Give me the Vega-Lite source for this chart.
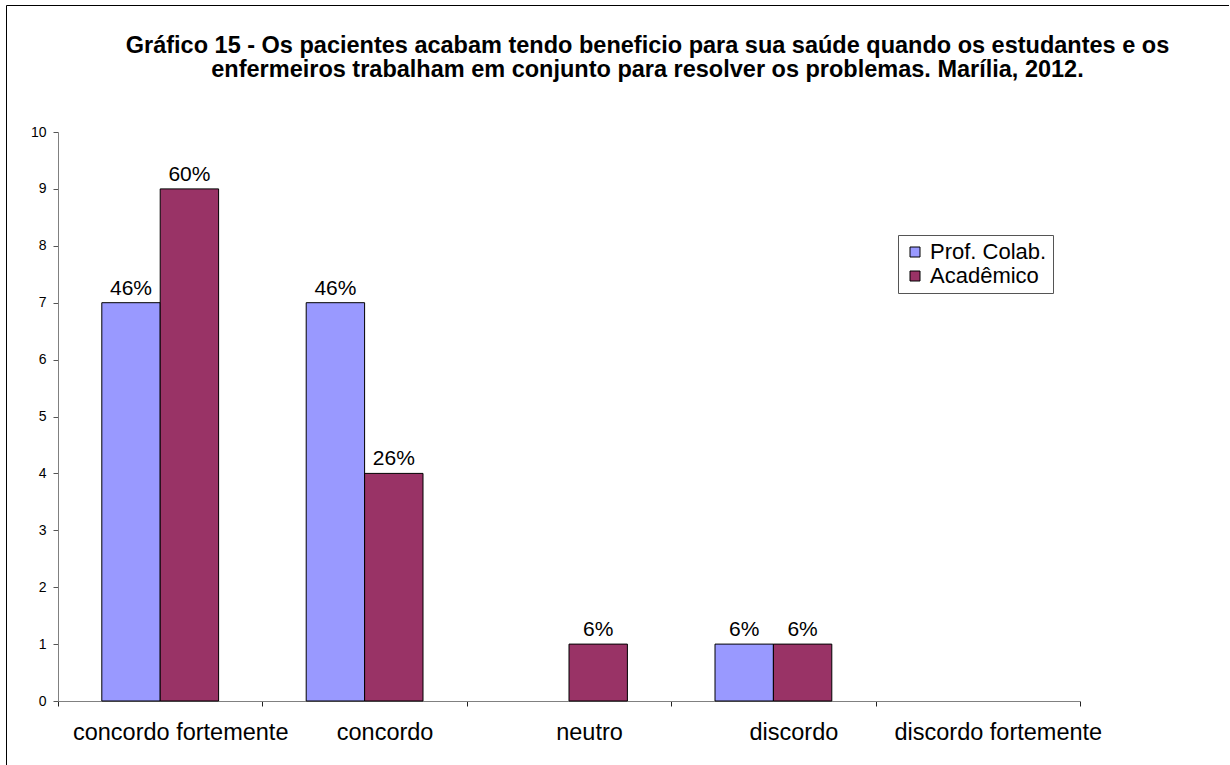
{
  "$schema": "https://vega.github.io/schema/vega-lite/v6.json",
  "autosize": "none",
  "padding": {"left": 6, "top": 5, "right": 0, "bottom": 0},
  "width": 1223,
  "height": 760,
  "background": "white",
  "title": {
    "text": ["Gráfico 15 - Os pacientes acabam tendo beneficio para sua saúde quando os estudantes e os", "enfermeiros trabalham em conjunto para resolver os problemas. Marília, 2012."],
    "font": "Liberation Sans",
    "fontSize": 23.5,
    "fontWeight": "bold",
    "color": "black",
    "anchor": "middle",
    "frame": "group",
    "offset": -95,
    "baseline": "alphabetic",
    "lineHeight": 24,
    "dx": 30
  },
  "data": {
    "values": [
      {"categoria": "concordo fortemente", "grupo": "Prof. Colab.", "valor": 7, "rotulo": "46%"},
      {"categoria": "concordo fortemente", "grupo": "Acadêmico", "valor": 9, "rotulo": "60%"},
      {"categoria": "concordo", "grupo": "Prof. Colab.", "valor": 7, "rotulo": "46%"},
      {"categoria": "concordo", "grupo": "Acadêmico", "valor": 4, "rotulo": "26%"},
      {"categoria": "neutro", "grupo": "Prof. Colab.", "valor": 0, "rotulo": ""},
      {"categoria": "neutro", "grupo": "Acadêmico", "valor": 1, "rotulo": "6%"},
      {"categoria": "discordo", "grupo": "Prof. Colab.", "valor": 1, "rotulo": "6%"},
      {"categoria": "discordo", "grupo": "Acadêmico", "valor": 1, "rotulo": "6%"},
      {"categoria": "discordo fortemente", "grupo": "Prof. Colab.", "valor": 0, "rotulo": ""},
      {"categoria": "discordo fortemente", "grupo": "Acadêmico", "valor": 0, "rotulo": ""}
    ]
  },
  "encoding": {
    "x": {
      "field": "categoria",
      "type": "nominal",
      "sort": null,
      "scale": {
        "domain": ["concordo fortemente", "concordo", "neutro", "discordo", "discordo fortemente"],
        "range": [52, 1074],
        "paddingInner": 0,
        "paddingOuter": 0
      },
      "axis": {
        "title": null,
        "orient": "bottom",
        "offset": -64,
        "labelAngle": 0,
        "labelFont": "Liberation Sans",
        "labelFontSize": 23.5,
        "labelColor": "black",
        "labelPadding": 14,
        "labelOffset": 20,
        "labelLimit": 0,
        "labelBound": false,
        "labelOverlap": false,
        "tickBand": "extent",
        "tickSize": 5,
        "tickColor": "#222",
        "domainColor": "#808080",
        "grid": false
      }
    },
    "xOffset": {
      "field": "grupo",
      "type": "nominal",
      "scale": {"domain": ["Prof. Colab.", "Acadêmico"], "paddingInner": 0, "paddingOuter": 0.75}
    },
    "y": {
      "field": "valor",
      "type": "quantitative",
      "scale": {"domain": [0, 10], "nice": false, "range": [696, 127]},
      "axis": {
        "title": null,
        "orient": "left",
        "offset": -52,
        "values": [0, 1, 2, 3, 4, 5, 6, 7, 8, 9, 10],
        "labelFont": "Liberation Sans",
        "labelFontSize": 14,
        "labelColor": "black",
        "labelPadding": 7,
        "tickSize": 5,
        "tickColor": "#555",
        "domainColor": "#808080",
        "grid": false
      }
    }
  },
  "layer": [
    {
      "transform": [{"filter": "datum.valor > 0"}],
      "mark": {"type": "bar", "stroke": "black", "strokeWidth": 1, "opacity": 1},
      "encoding": {
        "color": {
          "field": "grupo",
          "type": "nominal",
          "scale": {"domain": ["Prof. Colab.", "Acadêmico"], "range": ["#9999FF", "#993366"]},
          "legend": {
            "title": null,
            "orient": "none",
            "legendX": 892,
            "legendY": 230,
            "symbolType": "square",
            "symbolSize": 100,
            "symbolStrokeColor": "black",
            "symbolStrokeWidth": 1,
            "symbolOpacity": 1,
            "labelFont": "Liberation Sans",
            "labelFontSize": 22,
            "labelColor": "black",
            "labelOffset": 4,
            "rowPadding": 2,
            "padding": 6,
            "strokeColor": "#555",
            "fillColor": "white"
          }
        }
      }
    },
    {
      "transform": [{"filter": "datum.valor > 0"}],
      "mark": {"type": "text", "baseline": "alphabetic", "dy": -8, "font": "Liberation Sans", "fontSize": 21, "color": "black"},
      "encoding": {"text": {"field": "rotulo"}}
    }
  ],
  "config": {
    "view": {"stroke": "black", "strokeWidth": 1}
  }
}
